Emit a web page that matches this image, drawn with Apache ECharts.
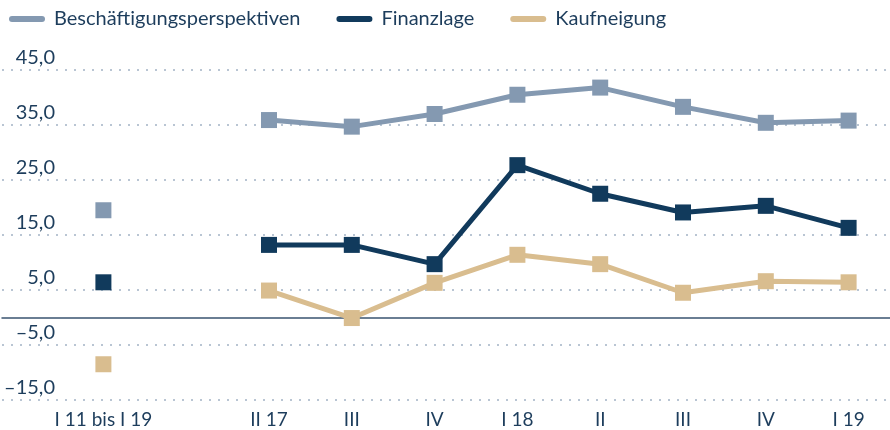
<!DOCTYPE html>
<html>
<head>
<meta charset="utf-8">
<script src="https://cdn.jsdelivr.net/npm/echarts@6/dist/echarts.min.js"></script>
<style>
html,body{margin:0;padding:0;background:#fff;}
#chart{width:890px;height:430px;}
</style>
</head>
<body>
<div id="chart"></div>
<script>
var categories = ["I 11 bis I 19", "", "II 17", "III", "IV", "I 18", "II", "III", "IV", "I 19"];
var beschaeftigung = [19.5, null, 35.9, 34.7, 37.0, 40.5, 41.8, 38.3, 35.4, 35.8];
var finanzlage = [6.4, null, 13.2, 13.2, 9.7, 27.7, 22.5, 19.1, 20.3, 16.3];
var kaufneigung = [-8.5, null, 4.9, -0.1, 6.3, 11.4, 9.7, 4.5, 6.6, 6.4];
var seriesNames = ["Beschäftigungsperspektiven", "Finanzlage", "Kaufneigung"];
var colors = ["#8499b1", "#113a5c", "#d9bd8f"];
var yMin = -15, yMax = 45, yInterval = 10;

var FONT = "Lato";
var TXT = "#1d3d5c";
var chart = echarts.init(document.getElementById('chart'), null, {renderer: 'canvas'});
var capsule = 'path://M3,0 L33,0 A3,3 0 0 1 33,6 L3,6 A3,3 0 0 1 3,0 Z';

function mkSeries(name, data, color) {
  return {
    name: name, type: 'line', xAxisIndex: 1, yAxisIndex: 1,
    data: data, connectNulls: false,
    symbol: 'rect', symbolSize: 16,
    lineStyle: {color: color, width: 5},
    itemStyle: {color: color},
    emphasis: {disabled: true},
    animation: false
  };
}

chart.setOption({
  animation: false,
  color: colors,
  textStyle: {fontFamily: FONT},
  legend: {
    left: 4, top: 4,
    itemWidth: 36, itemHeight: 6, itemGap: 36,
    icon: capsule,
    textStyle: {fontFamily: FONT, fontSize: 20, color: TXT, padding: [0, 0, 0, 4]},
    data: seriesNames
  },
  grid: [
    {left: 2, right: 0, top: 70, bottom: 30},
    {left: 62, right: 0, top: 70, bottom: 30}
  ],
  xAxis: [
    {gridIndex: 0, type: 'value', min: 0, max: 1, show: true,
     axisLine: {show: true, onZero: true, lineStyle: {color: '#3a5470', width: 1.5}},
     axisTick: {show: false}, axisLabel: {show: false}, splitLine: {show: false}},
    {gridIndex: 1, type: 'category', data: categories, boundaryGap: true,
     axisLine: {show: false}, axisTick: {show: false}, splitLine: {show: false},
     axisLabel: {fontFamily: FONT, fontSize: 19, color: TXT, margin: 10, interval: 0}}
  ],
  yAxis: [
    {gridIndex: 0, type: 'value', min: yMin, max: yMax, interval: yInterval,
     axisLine: {show: false}, axisTick: {show: false},
     splitLine: {show: true, lineStyle: {color: '#a3b3c5', width: 1.5, type: [2, 7]}},
     axisLabel: {inside: true, margin: 53, align: 'right', verticalAlign: 'bottom',
       padding: [0, 0, 2, 0], fontFamily: FONT, fontSize: 20, color: TXT,
       formatter: function (v) { return v.toFixed(1).replace('.', ',').replace('-', '\u2013'); }}},
    {gridIndex: 1, type: 'value', min: yMin, max: yMax, interval: yInterval, show: false,
     splitLine: {show: false}}
  ],
  series: [
    mkSeries(seriesNames[0], beschaeftigung, colors[0]),
    mkSeries(seriesNames[1], finanzlage, colors[1]),
    mkSeries(seriesNames[2], kaufneigung, colors[2])
  ]
});
</script>
</body>
</html>
